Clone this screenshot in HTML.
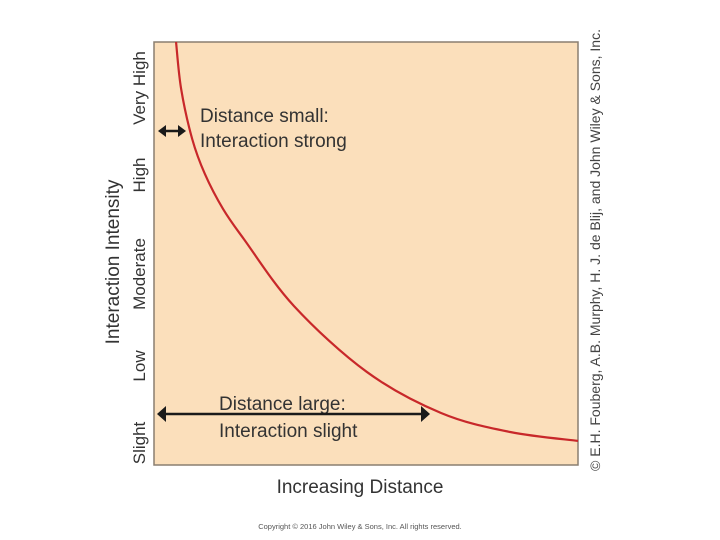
<!DOCTYPE html>
<html><head><meta charset="utf-8"><style>
body{margin:0;background:#fff;}
svg{display:block;font-family:"Liberation Sans",sans-serif;}
</style></head><body>
<svg id="chart" width="720" height="540">
<rect x="154" y="42" width="424" height="423" fill="#fbdfbb" stroke="#8a7f70" stroke-width="1.5"/>
<g fill="#333" font-size="17">
<text transform="translate(145,88) rotate(-90)" text-anchor="middle">Very High</text>
<text transform="translate(145,175) rotate(-90)" text-anchor="middle">High</text>
<text transform="translate(145,274) rotate(-90)" text-anchor="middle">Moderate</text>
<text transform="translate(145,366) rotate(-90)" text-anchor="middle">Low</text>
<text transform="translate(145,443) rotate(-90)" text-anchor="middle">Slight</text>
</g>
<text transform="translate(119,262) rotate(-90)" text-anchor="middle" font-size="19" fill="#333">Interaction Intensity</text>
<text x="360" y="493" text-anchor="middle" font-size="19" fill="#333">Increasing Distance</text>
<text transform="translate(600,250) rotate(-90)" text-anchor="middle" font-size="14" fill="#444">© E.H. Fouberg, A.B. Murphy, H. J. de Blij, and John Wiley &amp; Sons, Inc.</text>
<text x="360" y="529" text-anchor="middle" font-size="7.5" fill="#555">Copyright © 2016 John Wiley &amp; Sons, Inc. All rights reserved.</text>
<g fill="#333" font-size="19">
<text x="200" y="122">Distance small:</text>
<text x="200" y="147">Interaction strong</text>
</g>
<g fill="#333" font-size="19">
<text x="219" y="410">Distance large:</text>
<text x="219" y="437">Interaction slight</text>
</g>
<g stroke="#1a1a1a" stroke-width="2.5" fill="#1a1a1a">
<line x1="163" y1="131" x2="181" y2="131"/>
<polygon points="158,131 166,125 166,137" stroke="none"/>
<polygon points="186,131 178,125 178,137" stroke="none"/>
</g>
<g stroke="#1a1a1a" stroke-width="2.5" fill="#1a1a1a">
<line x1="162" y1="414" x2="424" y2="414"/>
<polygon points="157,414 166,406 166,422" stroke="none"/>
<polygon points="430,414 421,406 421,422" stroke="none"/>
</g>
</svg>
<script>
const distances=[5.2,6.4,9.0,12.0,16.3,21.2,33.0,50.2,67.7,84.0,100];
const intensities=[100,88.9,77.1,68.8,60.5,53.4,37.6,22.0,12.3,7.8,5.7];
const X0=154,X1=578,Y0=465,Y1=42;
function xs(v){return X0+(X1-X0)*v/100;}
function ys(v){return Y0-(Y0-Y1)*v/100;}
const pts=distances.map((d,i)=>[xs(d),ys(intensities[i])]);
let d='M'+pts[0][0]+','+pts[0][1];
for(let i=0;i<pts.length-1;i++){
 const p0=pts[Math.max(0,i-1)],p1=pts[i],p2=pts[i+1],p3=pts[Math.min(pts.length-1,i+2)];
 const c1=[p1[0]+(p2[0]-p0[0])/6,p1[1]+(p2[1]-p0[1])/6];
 const c2=[p2[0]-(p3[0]-p1[0])/6,p2[1]-(p3[1]-p1[1])/6];
 d+=' C'+c1+' '+c2+' '+p2;
}
const path=document.createElementNS('http://www.w3.org/2000/svg','path');
path.setAttribute('d',d);
path.setAttribute('fill','none');
path.setAttribute('stroke','#c8282a');
path.setAttribute('stroke-width','2.2');


document.getElementById('chart').appendChild(path);
</script>
</body></html>
